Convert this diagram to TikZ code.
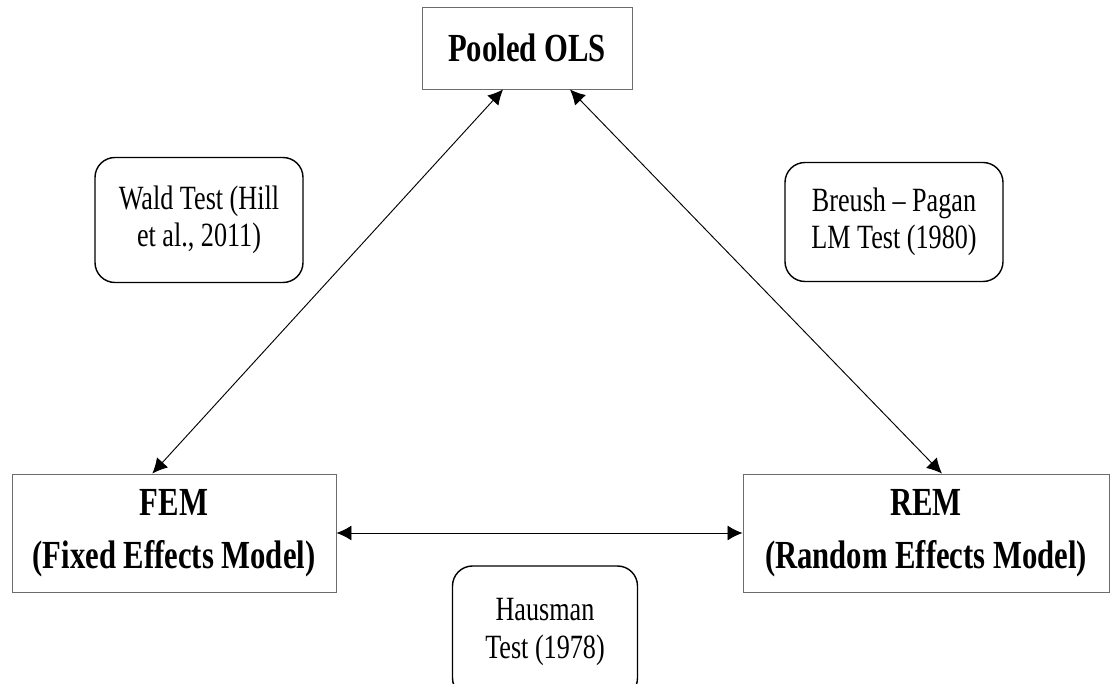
\documentclass[tikz,border=0pt]{standalone}
\usepackage{fontspec}
\setmainfont[FakeStretch=0.77]{Liberation Serif}
\usetikzlibrary{arrows.meta}

\begin{document}
\begin{tikzpicture}[x=0.03cm, y=-0.03cm,
    model/.style={draw=gray!85!black, line width=0.8pt, inner sep=0pt, align=center,
        font=\fontsize{34}{45}\selectfont\bfseries},
    test/.style={draw, rounded corners=0.6cm, line width=1.2pt, inner sep=0pt, align=center,
        font=\fontsize{29}{32}\selectfont},
    link/.style={{Latex[length=0.45cm,width=0.45cm]}-{Latex[length=0.45cm,width=0.45cm]}, line width=0.8pt}]

    \useasboundingbox (0,0) rectangle (1115,684);
    \clip (0,0) rectangle (1115,684);

    % models
    \node[model, minimum width=6.3cm, minimum height=2.46cm] (ols) at (527,48) {Pooled OLS};
    \node[model, minimum width=9.72cm, minimum height=3.54cm] (fem) at (174,533) {FEM\\(Fixed Effects Model)};
    \node[model, minimum width=10.98cm, minimum height=3.54cm] (rem) at (926,533) {REM\\(Random Effects Model)};

    % tests
    \node[test, minimum width=6.24cm, minimum height=3.75cm] (wald) at (199,220) {Wald Test (Hill\\et al., 2011)};
    \node[test, minimum width=6.54cm, minimum height=3.57cm] (bp) at (894,222) {Breush -- Pagan\\LM Test (1980)};
    \node[test, minimum width=5.55cm, minimum height=3.96cm] (haus) at (545,632) {Hausman\\Test (1978)};

    \draw[link] (ols.240) -- (fem.110);
    \draw[link] (ols.316) -- (rem.75);
    \draw[link] (fem.east) -- (rem.west);

\end{tikzpicture}
\end{document}
